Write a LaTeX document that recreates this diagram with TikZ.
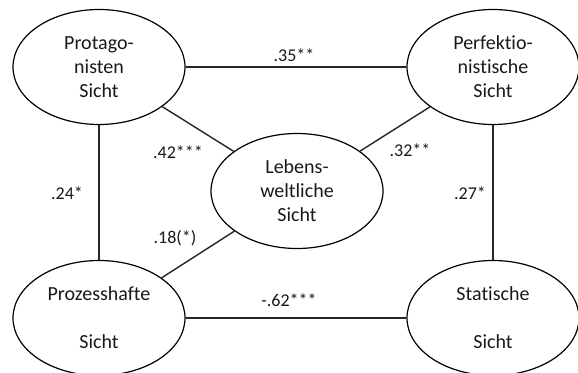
\documentclass[tikz,border=0pt]{standalone}
\usepackage{fontspec}
\setmainfont{Carlito}[Ligatures=NoCommon]
\usetikzlibrary{shapes.geometric}

\tikzset{
  view/.style={ellipse, draw=black, line width=1.2pt, inner sep=0pt,
    minimum width=172pt, minimum height=115pt, align=center,
    font=\fontsize{20}{24}\selectfont, text=black!90},
  link/.style={draw=black!85, line width=1.4pt},
  coef/.style={font=\fontsize{18}{22}\selectfont, text=black!90, inner sep=0pt}
}

\begin{document}
\begin{tikzpicture}[x=1pt, y=-1pt]
  \useasboundingbox (0,0) rectangle (578,372);
  \begin{scope}
    \clip (0,0) rectangle (578,372);
    % the five perspectives
    \node[view] (prot) at (99,67)    {Protago-\\nisten\\Sicht};
    \node[view] (perf) at (493,67)   {Perfektio-\\nistische\\Sicht};
    \node[view] (lebe) at (297,191)  {Lebens-\\weltliche\\Sicht};
    \node[view] (proz) at (99,318)   {Prozesshafte\\[24pt]Sicht};
    \node[view] (stat) at (493,318)  {Statische\\[24pt]Sicht};

    % correlations between them
    \draw[link] (prot) -- (perf);
    \draw[link] (prot) -- (proz);
    \draw[link] (perf) -- (stat);
    \draw[link] (proz) -- (stat);
    \draw[link] (prot) -- (lebe);
    \draw[link] (perf) -- (lebe);
    \draw[link] (proz) -- (lebe);
  \end{scope}

  % coefficients
  \node[coef] (c1) at (294,55)  {.35**};
  \node[coef] (c2) at (178,152) {.42***};
  \node[coef] (c3) at (410,150) {.32**};
  \node[coef] (c4) at (67,193)  {.24*};
  \node[coef] (c5) at (470,193) {.27*};
  \node[coef] (c6) at (175,238) {.18(*)};
  \node[coef] (c7) at (289,300) {-.62***};
\end{tikzpicture}
\end{document}
